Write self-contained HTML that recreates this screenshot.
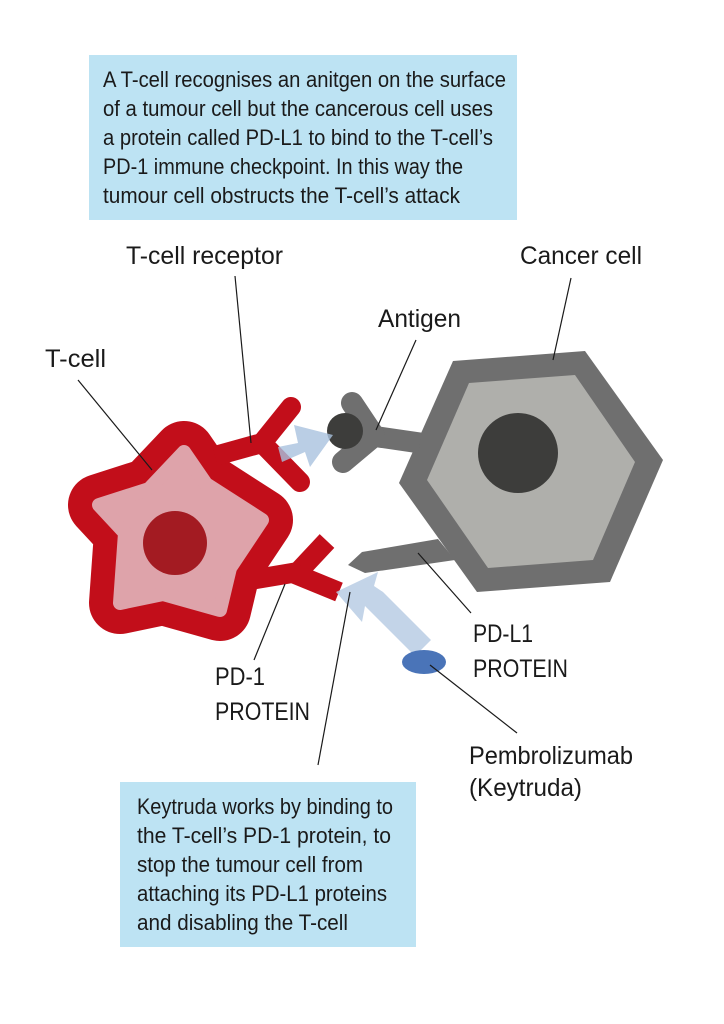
<!DOCTYPE html>
<html><head><meta charset="utf-8"><style>
html,body{margin:0;padding:0;background:#fff;}
svg{display:block;}
text{font-family:"Liberation Sans",sans-serif;fill:#1a1a1a;}
</style></head><body>
<svg width="724" height="1024" viewBox="0 0 724 1024" xmlns="http://www.w3.org/2000/svg">
<rect x="0" y="0" width="724" height="1024" fill="#fff"/>
<rect x="89" y="55" width="428" height="165" fill="#bde3f3"/>
<g font-size="22.5">
<text x="103" y="87" textLength="403" lengthAdjust="spacingAndGlyphs">A T-cell recognises an anitgen on the surface</text>
<text x="103" y="116" textLength="390" lengthAdjust="spacingAndGlyphs">of a tumour cell but the cancerous cell uses</text>
<text x="103" y="145" textLength="390" lengthAdjust="spacingAndGlyphs">a protein called PD-L1 to bind to the T-cell’s</text>
<text x="103" y="174" textLength="360" lengthAdjust="spacingAndGlyphs">PD-1 immune checkpoint. In this way the</text>
<text x="103" y="203" textLength="357" lengthAdjust="spacingAndGlyphs">tumour cell obstructs the T-cell’s attack</text>
</g>
<rect x="120" y="782" width="296" height="165" fill="#bde3f3"/>
<g font-size="22.5">
<text x="137" y="814" textLength="256" lengthAdjust="spacingAndGlyphs">Keytruda works by binding to</text>
<text x="137" y="843" textLength="254" lengthAdjust="spacingAndGlyphs">the T-cell’s PD-1 protein, to</text>
<text x="137" y="872" textLength="226" lengthAdjust="spacingAndGlyphs">stop the tumour cell from</text>
<text x="137" y="901" textLength="250" lengthAdjust="spacingAndGlyphs">attaching its PD-L1 proteins</text>
<text x="137" y="930" textLength="211" lengthAdjust="spacingAndGlyphs">and disabling the T-cell</text>
</g>

<polygon points="453,361 585,351 663,460 610,582 477,592 399,483" fill="#6f6f6f"/>
<polygon points="469,383 575,375 635,462 593,560 488,568 427,480" fill="#afafab"/>
<circle cx="518" cy="453" r="40" fill="#3d3d3b"/>
<line x1="372" y1="436" x2="420" y2="443" stroke="#6f6f6f" stroke-width="21"/>
<polyline points="352,403 374,436 343,462" fill="none" stroke="#6f6f6f" stroke-width="22" stroke-linecap="round" stroke-linejoin="round"/>
<circle cx="345" cy="431" r="18" fill="#3d3d3b"/>
<polygon points="348,565 362,552 438,539 455,560 365,573" fill="#6f6f6f"/>

<g stroke-linejoin="round">
<polygon points="184,452 206,484 262,520 230,568 220,610 163,594 120,603 125,533 99,505 149,489" fill="#c20e1a" stroke="#c20e1a" stroke-width="62"/>
<line x1="215" y1="456" x2="262" y2="443" stroke="#c20e1a" stroke-width="20"/>
<polyline points="291,407 262,443 300,482" fill="none" stroke="#c20e1a" stroke-width="20" stroke-linecap="round"/>
<line x1="250" y1="580" x2="298" y2="572" stroke="#c20e1a" stroke-width="20"/>
<line x1="298" y1="572" x2="327" y2="541" stroke="#c20e1a" stroke-width="20"/>
<line x1="295" y1="574" x2="339" y2="592" stroke="#c20e1a" stroke-width="20"/>
<polygon points="184,452 206,484 262,520 230,568 220,610 163,594 120,603 125,533 99,505 149,489" fill="#dea3aa" stroke="#dea3aa" stroke-width="14"/>
</g>
<circle cx="175" cy="543" r="32" fill="#a31b22"/>

<polygon points="278,447 298,443 294,425 333,435 310,467 305,452 282,462" fill="#a9c2de" opacity="0.8"/>
<polygon points="431,640 415,656 365,606 362,622 336,592 378,572 374,586 383,592" fill="#b8cde4" opacity="0.85"/>
<ellipse cx="424" cy="662" rx="22" ry="12" fill="#4a74b8"/>

<g stroke="#1a1a1a" stroke-width="1.2">
<line x1="78" y1="380" x2="152" y2="470"/>
<line x1="235" y1="276" x2="251" y2="443"/>
<line x1="571" y1="278" x2="553" y2="360"/>
<line x1="416" y1="340" x2="376" y2="430"/>
<line x1="471" y1="613" x2="418" y2="553"/>
<line x1="285" y1="584" x2="254" y2="660"/>
<line x1="350" y1="592" x2="318" y2="765"/>
<line x1="430" y1="665" x2="517" y2="733"/>
</g>

<g font-size="25">
<text x="126" y="264" textLength="157" lengthAdjust="spacingAndGlyphs">T-cell receptor</text>
<text x="520" y="264" textLength="122" lengthAdjust="spacingAndGlyphs">Cancer cell</text>
<text x="378" y="327" textLength="83" lengthAdjust="spacingAndGlyphs">Antigen</text>
<text x="45" y="367" textLength="61" lengthAdjust="spacingAndGlyphs">T-cell</text>
<text x="473" y="642" textLength="60" lengthAdjust="spacingAndGlyphs">PD-L1</text>
<text x="473" y="677" textLength="95" lengthAdjust="spacingAndGlyphs">PROTEIN</text>
<text x="215" y="685" textLength="50" lengthAdjust="spacingAndGlyphs">PD-1</text>
<text x="215" y="720" textLength="95" lengthAdjust="spacingAndGlyphs">PROTEIN</text>
<text x="469" y="764" textLength="164" lengthAdjust="spacingAndGlyphs">Pembrolizumab</text>
<text x="469" y="796" textLength="113" lengthAdjust="spacingAndGlyphs">(Keytruda)</text>
</g>
</svg>
</body></html>
